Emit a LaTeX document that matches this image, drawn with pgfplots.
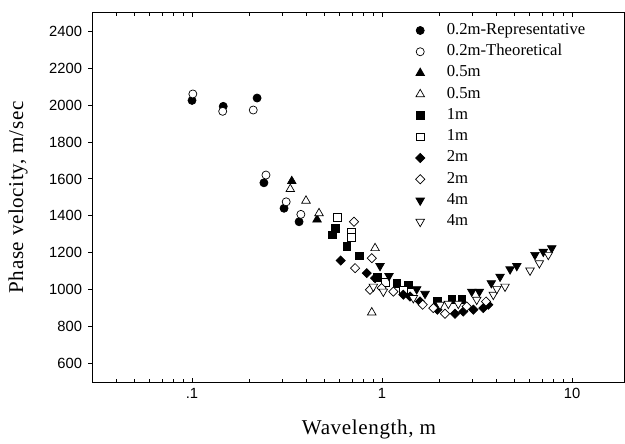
\documentclass[border=0pt]{standalone}
\usepackage{fontspec}
\setmainfont{Liberation Serif}
\newfontfamily\ticksans{Liberation Sans}
\usepackage{pgfplots}
\pgfplotsset{compat=1.18}

\begin{document}
\begin{tikzpicture}
\begin{axis}[
  scale only axis,
  width=106.5mm, height=73.9mm,
  xmode=log,
  xmin=0.03, xmax=19,
  ymin=500, ymax=2500,
  xtick={0.1,1,10},
  xticklabels={.1,1,10},
  minor xtick={0.04,0.05,0.06,0.07,0.08,0.09,0.2,0.3,0.4,0.5,0.6,0.7,0.8,0.9,2,3,4,5,6,7,8,9},
  ytick={600,800,1000,1200,1400,1600,1800,2000,2200,2400},
  ytick pos=left,
  xtick align=inside,
  ytick align=outside,
  major tick length=0.9mm,
  minor tick length=0.7mm,
  axis line style={line width=0.6pt},
  every tick/.style={black, line width=0.5pt},
  /pgf/number format/assume math mode=true,
  /pgf/number format/1000 sep={},
  tick label style={font=\ticksans\fontsize{8.4}{9}\selectfont},
  xlabel={Wavelength, m},
  ylabel={Phase velocity, m/sec},
  label style={font=\fontsize{12}{14}\selectfont\addfontfeature{LetterSpace=3}},
  xlabel style={at={(axis description cs:0.519,-0.129)}, anchor=center},
  ylabel style={at={(axis description cs:-0.14,0.5)}, anchor=center},
  legend cell align=left,
  legend style={draw=none, fill=none,
    at={(axis description cs:0.606,0.973)}, anchor=north west,
    inner sep=0pt, row sep=3.6pt, column sep=4.4mm,
    font=\fontsize{9.5}{10}\selectfont,
    nodes={inner sep=0pt, text height=6.5pt, text depth=2pt}},
]
% 0.2m representative
\addplot[only marks, black, mark=*, mark size=2.3pt] coordinates {
  (0.100,2025) (0.146,1993) (0.220,2038) (0.239,1579) (0.305,1441) (0.366,1368)
};
\addlegendentry{0.2m-Representative}
% 0.2m theoretical
\addplot[only marks, black, mark=*, mark size=2.3pt, mark options={fill=white}] coordinates {
  (0.101,2060) (0.145,1966) (0.210,1973) (0.245,1621) (0.313,1476) (0.374,1408)
};
\addlegendentry{0.2m-Theoretical}
% 0.5m
\addplot[only marks, black, mark=triangle*, mark size=2.8pt] coordinates {
  (0.335,1588) (0.455,1380)
};
\addlegendentry{0.5m}
\addplot[only marks, black, mark=triangle*, mark size=2.8pt, mark options={fill=white}] coordinates {
  (0.329,1545) (0.398,1482) (0.466,1414) (0.919,1225) (0.883,877)
};
\addlegendentry{0.5m}
% 1m
\addplot[only marks, black, mark=square*, mark size=2.2pt] coordinates {
  (0.550,1297) (0.566,1333) (0.652,1233) (0.759,1183) (0.945,1068)
  (1.195,1036) (1.375,1027) (1.955,936) (2.327,946) (2.628,946)
};
\addlegendentry{1m}
\addplot[only marks, black, mark=square*, mark size=2.2pt, mark options={fill=white}] coordinates {
  (0.582,1390) (0.687,1314) (0.687,1284) (1.040,1041) (1.300,1000)
};
\addlegendentry{1m}
% 2m
\addplot[only marks, black, mark=square*, mark size=1.85pt, mark options={rotate=45}] coordinates {
  (0.606,1158) (0.831,1090) (0.919,1063) (1.295,973) (1.404,963) (1.585,936)
  (1.955,892) (2.422,870) (2.679,882) (3.024,892) (3.413,901) (3.627,919)
};
\addlegendentry{2m}
\addplot[only marks, black, mark=square*, mark size=1.85pt, mark options={rotate=45, fill=white}] coordinates {
  (0.712,1368) (0.721,1117) (0.883,1171) (0.865,1000) (0.996,1009) (1.147,990)
  (1.637,919) (1.862,901) (2.146,870) (2.791,909) (3.527,936)
};
\addlegendentry{2m}
% 4m
\addplot[only marks, black, mark=triangle*, mark size=2.8pt, mark options={rotate=180}] coordinates {
  (0.976,1129) (1.088,1075) (1.522,1003) (1.684,978) (2.966,990) (3.252,990)
  (3.760,1036) (4.180,1071) (4.720,1111) (5.120,1129) (6.380,1189) (7.060,1206) (7.820,1225)
};
\addlegendentry{4m}
\addplot[only marks, black, mark=triangle*, mark size=2.8pt, mark options={rotate=180, fill=white}] coordinates {
  (0.900,1017) (1.016,990) (1.461,955) (2.020,919) (2.234,924) (2.521,924)
  (3.150,946) (3.853,973) (4.020,1005) (4.440,1017) (6.010,1104) (6.730,1144) (7.503,1189)
};
\addlegendentry{4m}
\end{axis}
\pgfresetboundingbox
\path[use as bounding box] ([xshift=-18.54mm,yshift=-12.34mm]current axis.south west)
  rectangle ([yshift=2.54mm]current axis.north east);
\end{tikzpicture}
\end{document}
